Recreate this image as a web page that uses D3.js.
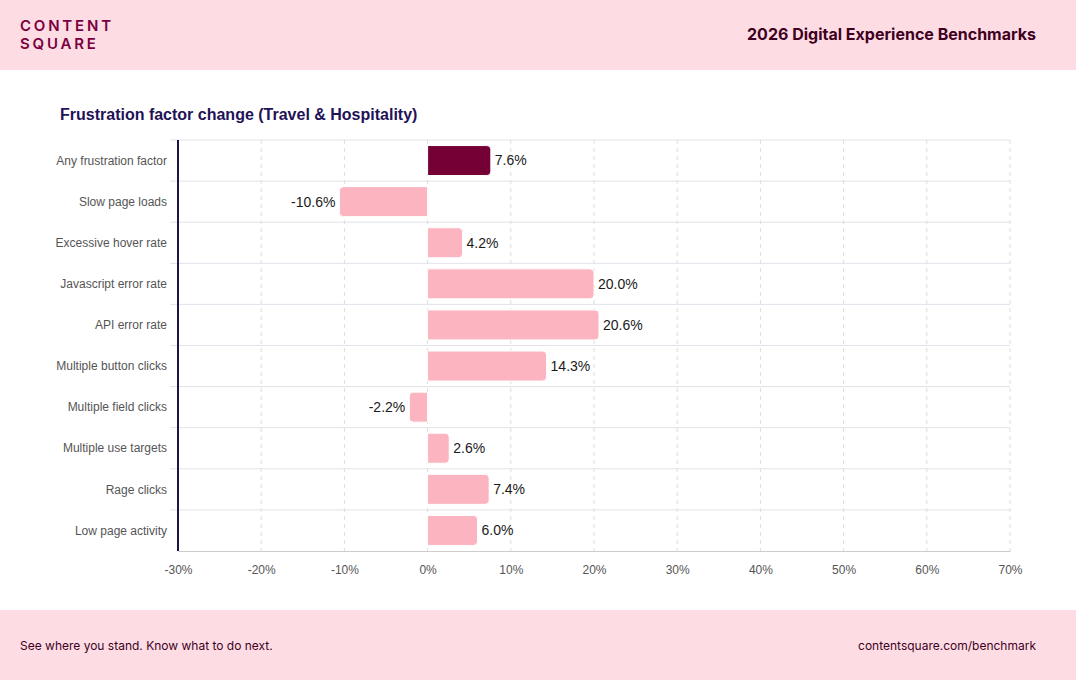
<!DOCTYPE html>
<html>
<head>
<meta charset="utf-8">
<script src="https://cdn.jsdelivr.net/npm/d3@7"></script>
<style>
  body { margin: 0; background: #fff; font-family: Inter, "Noto Sans", sans-serif; }
  svg { display: block; }
</style>
</head>
<body>
<svg id="chart" width="1076" height="680"></svg>
<script>
const categories = [
  "Any frustration factor",
  "Slow page loads",
  "Excessive hover rate",
  "Javascript error rate",
  "API error rate",
  "Multiple button clicks",
  "Multiple field clicks",
  "Multiple use targets",
  "Rage clicks",
  "Low page activity"
];
const values = [7.6, -10.6, 4.2, 20.0, 20.6, 14.3, -2.2, 2.6, 7.4, 6.0];
const highlighted = ["Any frustration factor"];
const xTicks = [-30, -20, -10, 0, 10, 20, 30, 40, 50, 60, 70];

const width = 1076, height = 680;
const margin = { top: 140, right: 66, bottom: 129, left: 178 };
const chartFont = "'Liberation Sans', Arial, sans-serif";

const svg = d3.select("#chart");

// header / footer bands
svg.append("rect").attr("x", 0).attr("y", 0).attr("width", width).attr("height", 70).attr("fill", "#fddde3");
svg.append("rect").attr("x", 0).attr("y", 610).attr("width", width).attr("height", 70).attr("fill", "#fddde3");

// logo
svg.append("text")
  .attr("x", 20).attr("y", 31)
  .attr("font-size", 15).attr("font-weight", 600).attr("letter-spacing", 2.8)
  .attr("fill", "#7a0040")
  .text("CONTENT");
svg.append("text")
  .attr("x", 20).attr("y", 49)
  .attr("font-size", 15).attr("font-weight", 600).attr("letter-spacing", 2.8)
  .attr("fill", "#7a0040")
  .text("SQUARE");

svg.append("text")
  .attr("x", 1036).attr("y", 40)
  .attr("text-anchor", "end")
  .attr("font-size", 16).attr("font-weight", 700)
  .attr("fill", "#40001f")
  .text("2026 Digital Experience Benchmarks");

svg.append("text")
  .attr("x", 20).attr("y", 650)
  .attr("font-size", 12).attr("fill", "#40001f")
  .text("See where you stand. Know what to do next.");
svg.append("text")
  .attr("x", 1036).attr("y", 650)
  .attr("text-anchor", "end")
  .attr("font-size", 12).attr("fill", "#40001f")
  .text("contentsquare.com/benchmark");

// chart title
svg.append("text")
  .attr("x", 60).attr("y", 120)
  .attr("font-family", chartFont)
  .attr("font-size", 16).attr("font-weight", 700)
  .attr("fill", "#1f1257")
  .text("Frustration factor change (Travel & Hospitality)");

const x = d3.scaleLinear()
  .domain([-30, 70])
  .range([margin.left, width - margin.right]);

const y = d3.scaleBand()
  .domain(categories)
  .range([margin.top, height - margin.bottom])
  .paddingInner(0.27)
  .paddingOuter(0.135);

const rowH = (height - margin.bottom - margin.top) / categories.length;
const plotBottom = height - margin.bottom;

// horizontal row separators
const rowLines = d3.range(categories.length).map(i => margin.top + i * rowH);
svg.append("g").selectAll("line")
  .data(rowLines)
  .join("line")
  .attr("x1", margin.left - 8).attr("x2", x(70))
  .attr("y1", d => d).attr("y2", d => d)
  .attr("stroke", "#e3e1ea").attr("stroke-width", 1);

// vertical dashed grid
svg.append("g").selectAll("line")
  .data(xTicks.filter(d => d !== -30))
  .join("line")
  .attr("x1", d => x(d)).attr("x2", d => x(d))
  .attr("y1", margin.top).attr("y2", plotBottom + 5)
  .attr("stroke", "#dddddd").attr("stroke-width", 1)
  .attr("stroke-dasharray", "4,4");

// bottom axis
const xAxis = svg.append("g")
  .attr("transform", `translate(0,${plotBottom})`)
  .call(d3.axisBottom(x).tickValues(xTicks).tickFormat(d => d + "%").tickSize(0).tickPadding(14));
xAxis.select(".domain").attr("stroke", "#cccccc");
xAxis.selectAll("text")
  .attr("font-family", chartFont)
  .attr("font-size", 12).attr("fill", "#555555");

// bars, rounded on the outer end only
function barPath(v, yy, h) {
  const x0 = x(0), x1 = x(v);
  const r = Math.min(4, Math.abs(x1 - x0));
  if (v >= 0) {
    return `M${x0},${yy} H${x1 - r} Q${x1},${yy} ${x1},${yy + r} V${yy + h - r} Q${x1},${yy + h} ${x1 - r},${yy + h} H${x0} Z`;
  }
  return `M${x0},${yy} H${x1 + r} Q${x1},${yy} ${x1},${yy + r} V${yy + h - r} Q${x1},${yy + h} ${x1 + r},${yy + h} H${x0} Z`;
}

svg.append("g").selectAll("path")
  .data(categories.map((c, i) => ({ c, v: values[i] })))
  .join("path")
  .attr("d", d => barPath(d.v, y(d.c), y.bandwidth()))
  .attr("fill", d => highlighted.includes(d.c) ? "#750036" : "#fbb4c0")
  .attr("stroke", "#ffffff").attr("stroke-width", 1);

// value labels
svg.append("g").selectAll("text")
  .data(categories.map((c, i) => ({ c, v: values[i] })))
  .join("text")
  .attr("x", d => d.v >= 0 ? x(d.v) + 4 : x(d.v) - 4)
  .attr("y", d => y(d.c) + y.bandwidth() / 2)
  .attr("dy", "0.35em")
  .attr("text-anchor", d => d.v >= 0 ? "start" : "end")
  .attr("font-family", chartFont)
  .attr("font-size", 14).attr("fill", "#1a1a1a")
  .text(d => d.v.toFixed(1) + "%");

// category labels
svg.append("g").selectAll("text")
  .data(categories)
  .join("text")
  .attr("x", margin.left - 11)
  .attr("y", d => y(d) + y.bandwidth() / 2)
  .attr("dy", "0.35em")
  .attr("text-anchor", "end")
  .attr("font-family", chartFont)
  .attr("font-size", 12).attr("fill", "#555555")
  .text(d => d);

// left axis line
svg.append("line")
  .attr("x1", margin.left).attr("x2", margin.left)
  .attr("y1", margin.top).attr("y2", plotBottom)
  .attr("stroke", "#1f1247").attr("stroke-width", 2);
</script>
</body>
</html>
